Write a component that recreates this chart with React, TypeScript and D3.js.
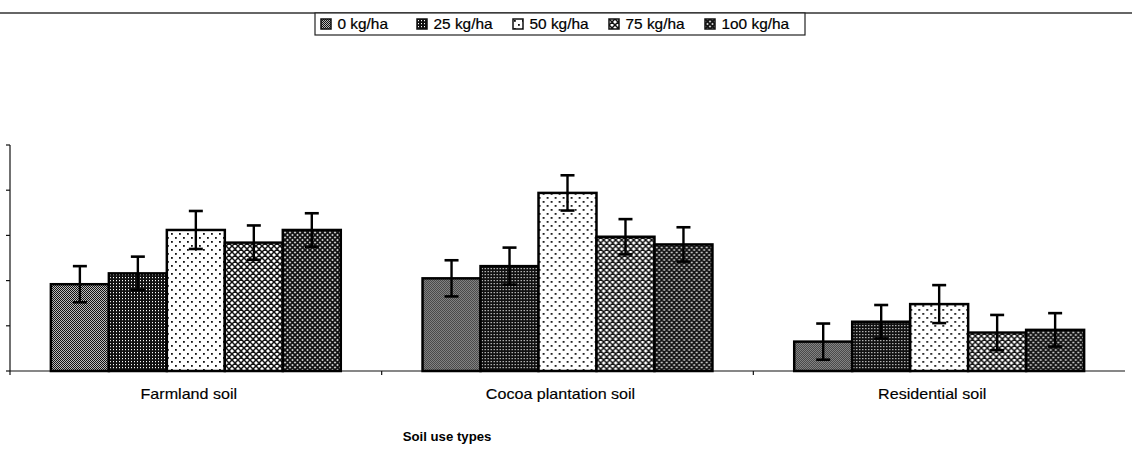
import * as d3 from 'd3';

// soil use categories and fertiliser rates
const categories = ['Farmland soil', 'Cocoa plantation soil', 'Residential soil'];
const series = ['0 kg/ha', '25 kg/ha', '50 kg/ha', '75 kg/ha', '1o0 kg/ha'];

// bar heights (in y-tick units) per series, one value per category
const rate0 = [1.92, 2.05, 0.65];
const rate25 = [2.16, 2.32, 1.09];
const rate50 = [3.12, 3.94, 1.48];
const rate75 = [2.84, 2.97, 0.85];
const rate100 = [3.12, 2.8, 0.91];

// error bar half-lengths
const err0 = [0.4, 0.4, 0.4];
const err25 = [0.37, 0.41, 0.37];
const err50 = [0.42, 0.39, 0.42];
const err75 = [0.38, 0.39, 0.39];
const err100 = [0.37, 0.38, 0.37];

const yTicks = [0, 1, 2, 3, 4, 5];

const values = [rate0, rate25, rate50, rate75, rate100];
const errors = [err0, err25, err50, err75, err100];
const patternIds = ['p0', 'p25', 'p50', 'p75', 'p100'];

const W = 1132;
const H = 460;
const font = "'Liberation Sans', Arial, sans-serif";

export default function App() {
  const x0 = d3.scaleBand<string>().domain(categories).range([10, 1125]);
  const bw = x0.bandwidth();
  const groupW = bw * 0.78;
  const x1 = d3
    .scaleBand<string>()
    .domain(series)
    .range([(bw - groupW) / 2, (bw + groupW) / 2]);
  const y = d3.scaleLinear().domain([0, 5]).range([371, 145]);
  const legendX = d3.scalePoint<string>().domain(series).range([321, 705]);

  return (
    <svg width={W} height={H} style={{ position: 'absolute', left: 0, top: 0 }} fontFamily={font}>
      <defs>
        <pattern id="p0" width="2" height="2" patternUnits="userSpaceOnUse">
          <rect width="2" height="2" fill="#bbb" />
          <rect width="1" height="1" fill="#111" />
          <rect x="1" y="1" width="1" height="1" fill="#111" />
        </pattern>
        <pattern id="p25" width="3" height="3" patternUnits="userSpaceOnUse">
          <rect width="3" height="3" fill="#111" />
          <rect x="1" y="1" width="1" height="1.2" fill="#fff" />
        </pattern>
        <pattern id="p50" width="8" height="8" patternUnits="userSpaceOnUse">
          <rect width="8" height="8" fill="#fff" />
          <rect x="1" y="1" width="1.8" height="1.8" fill="#111" />
          <rect x="5" y="5" width="1.8" height="1.8" fill="#111" />
        </pattern>
        <pattern id="p75" width="6" height="6" patternUnits="userSpaceOnUse">
          <rect width="6" height="6" fill="#fff" />
          <path d="M0,0L6,6M6,0L0,6M-3,3L3,-3M3,9L9,3M-3,3L3,9M3,-3L9,3" stroke="#111" strokeWidth="1.5" />
        </pattern>
        <pattern id="p100" width="5" height="5" patternUnits="userSpaceOnUse">
          <rect width="5" height="5" fill="#ccc" />
          <path d="M0,0L5,5M5,0L0,5" stroke="#111" strokeWidth="1.7" />
        </pattern>
      </defs>

      {/* scan border line */}
      <line x1={0} x2={W} y1={13} y2={13} stroke="#333" strokeWidth={1.5} />

      {/* legend */}
      <rect x={315} y={13} width={490} height={22} fill="#fff" stroke="#222" strokeWidth={1.2} />
      {series.map((s, i) => (
        <g key={s} transform={`translate(${legendX(s)},19)`}>
          <rect width={10} height={10} fill={`url(#${patternIds[i]})`} stroke="#111" strokeWidth={1.5} />
          <text x={15} y={10} fontSize={14} transform="scale(1.1,1)" fill="#000" stroke="#000" strokeWidth={0.2}>
            {s}
          </text>
        </g>
      ))}

      {/* y axis */}
      <line x1={10} x2={10} y1={y(5)} y2={y(0) + 4} stroke="#111" strokeWidth={1.2} />
      {yTicks.map((t) => (
        <line key={t} x1={6} x2={10} y1={y(t)} y2={y(t)} stroke="#111" strokeWidth={1.2} />
      ))}

      {/* x axis */}
      <line x1={10} x2={1125} y1={y(0)} y2={y(0)} stroke="#111" strokeWidth={1.2} />
      {categories.slice(1).map((c) => (
        <line key={c} x1={x0(c)!} x2={x0(c)!} y1={y(0)} y2={y(0) + 4} stroke="#111" strokeWidth={1.2} />
      ))}

      {/* bars */}
      {categories.map((c, ci) => (
        <g key={c} transform={`translate(${x0(c)},0)`}>
          {series.map((s, si) => {
            const v = values[si][ci];
            const e = errors[si][ci];
            const bx = x1(s)!;
            const cx = bx + x1.bandwidth() / 2;
            return (
              <g key={s}>
                <rect
                  x={bx}
                  y={y(v)}
                  width={x1.bandwidth()}
                  height={y(0) - y(v)}
                  fill={`url(#${patternIds[si]})`}
                  stroke="#000"
                  strokeWidth={2.5}
                />
                <line x1={cx} x2={cx} y1={y(v + e)} y2={y(v - e)} stroke="#000" strokeWidth={2.4} />
                <line x1={cx - 7} x2={cx + 7} y1={y(v + e)} y2={y(v + e)} stroke="#000" strokeWidth={2.6} />
                <line x1={cx - 7} x2={cx + 7} y1={y(v - e)} y2={y(v - e)} stroke="#000" strokeWidth={2.6} />
              </g>
            );
          })}
        </g>
      ))}

      {/* category labels */}
      {categories.map((c) => {
        const cx = x0(c)! + bw / 2 - 7;
        return (
          <g key={c} transform={`translate(${cx},399)`}>
            <text textAnchor="middle" fontSize={14} transform="scale(1.15,1)" fill="#000" stroke="#000" strokeWidth={0.15}>
              {c}
            </text>
          </g>
        );
      })}

      {/* axis title */}
      <g transform="translate(447,441)">
        <text textAnchor="middle" fontSize={12} fontWeight="bold" transform="scale(1.1,1)" fill="#000">
          Soil use types
        </text>
      </g>
    </svg>
  );
}
